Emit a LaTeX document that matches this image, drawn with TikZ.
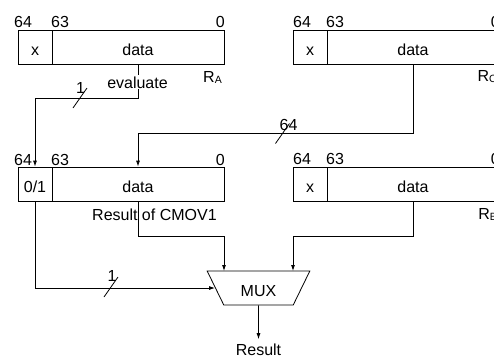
\documentclass[tikz,border=0pt]{standalone}
\usepackage{fontspec}
\setmainfont{Liberation Sans}
\usetikzlibrary{arrows.meta,shapes.geometric}
\begin{document}
\begin{tikzpicture}[x=1bp,y=-1bp,
  every node/.style={font=\fontsize{16bp}{19bp}\selectfont},
  field/.style={draw, line width=0.8bp, minimum height=34bp, inner sep=0pt, text height=17bp, text depth=0pt},
  xfield/.style={field, minimum width=34bp},
  dfield/.style={field, minimum width=172bp},
  wire/.style={line width=0.8bp},
  arr/.style={wire, -{Latex[length=6bp,width=4bp]}},
  lbl/.style={inner sep=0pt},
  smallsub/.style={},
]
\useasboundingbox (0,0) rectangle (494,356);

% Register A
\node[xfield] (ax) at (35,47) {x};
\node[dfield] (ad) at (138,47) {data};
\node[lbl, anchor=base west] (a64) at (14,27) {64};
\node[lbl, anchor=base west] (a63) at (51,27) {63};
\node[lbl, anchor=base east] (a0) at (225,27) {0};
\node[lbl, anchor=base east] (ra) at (222,82) {R\raisebox{-1bp}{\fontsize{10.5bp}{11bp}\selectfont A}};

% Register C
\node[xfield] (cx) at (310,47) {x};
\node[dfield] (cd) at (413,47) {data};
\node[lbl, anchor=base west] (c64) at (293,27) {64};
\node[lbl, anchor=base west] (c63) at (326,27) {63};
\node[lbl, anchor=base east] (c0) at (500,27) {0};
\node[lbl, anchor=base east] (rc) at (497,81) {R\raisebox{-1bp}{\fontsize{10.5bp}{11bp}\selectfont C}};

% Result of CMOV1
\node[xfield] (mx) at (35,184) {0/1};
\node[dfield] (md) at (138,184) {data};
\node[lbl, anchor=base west] (m64) at (14,165) {64};
\node[lbl, anchor=base west] (m63) at (51,165) {63};
\node[lbl, anchor=base east] (m0) at (225,165) {0};
\node[lbl, anchor=base west] (mres) at (92,220) {Result of CMOV1};

% Register B
\node[xfield] (bx) at (310,184) {x};
\node[dfield] (bd) at (413,184) {data};
\node[lbl, anchor=base west] (b64) at (293,164) {64};
\node[lbl, anchor=base west] (b63) at (326,164) {63};
\node[lbl, anchor=base east] (b0) at (500,164) {0};
\node[lbl, anchor=base east] (rb) at (497,219) {R\raisebox{-1bp}{\fontsize{10.5bp}{11bp}\selectfont B}};

% MUX
\node[draw, line width=0.8bp, trapezium, shape border rotate=180, trapezium angle=63.43,
      trapezium stretches=true, minimum width=103bp, minimum height=34bp, inner sep=0pt,
      text height=17bp, text depth=0pt] (mux) at (258.5,288) {MUX};
\coordinate (mi1) at (224,271);
\coordinate (mi2) at (293,271);

% Result
\node[lbl, anchor=base] (res) at (258.5,355) {Result};

% evaluate connector
\draw[arr] (ad.south) -- ++(0,34) coordinate (e1) -| (mx.north);
\node[lbl, fill=white, inner sep=1bp, anchor=base] (ev) at (137.5,88) {evaluate};
\coordinate (s1) at (80,98);
\draw[wire] (s1) ++(-7,10) -- ++(14,-20);
\node[lbl, anchor=base] (l1) at (80.5,93) {1};

% C -> CMOV1 data
\draw[arr] (cd.south) -- ++(0,69) -| (md.north);
\coordinate (s2) at (282.5,133.5);
\draw[wire] (s2) ++(-7,10) -- ++(14,-20);
\node[lbl, anchor=base] (l64) at (288.5,130) {64};

% to MUX
\draw[arr] (md.south) -- ++(0,35) -| (mi1);
\draw[arr] (bd.south) -- ++(0,35) -| (mi2);
\draw[arr] (mx.south) |- (mux.west);
\coordinate (s3) at (111,287);
\draw[wire] (s3) ++(-7,10) -- ++(14,-20);
\node[lbl, anchor=base] (l3) at (112,281) {1};

% output
\draw[arr, shorten >=4bp] (mux.south) -- (res.north);
\end{tikzpicture}
\end{document}
